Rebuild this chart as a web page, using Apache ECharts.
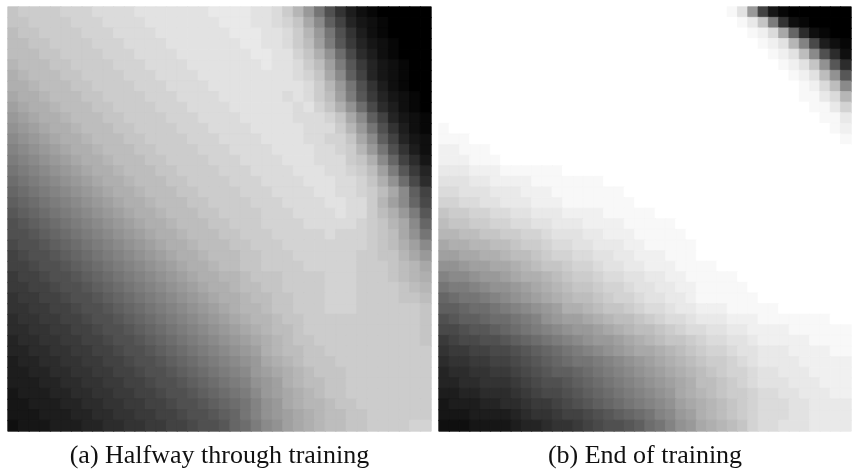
<!DOCTYPE html>
<html>
<head>
<meta charset="utf-8">
<script src="https://cdn.jsdelivr.net/npm/echarts@6/dist/echarts.min.js"></script>
<style>
  html, body { margin: 0; padding: 0; background: #ffffff; }
  #chart { width: 852px; height: 475px; }
</style>
</head>
<body>
<div id="chart"></div>
<script>
// Network output over the 40 x 40 input grid, one string per grid row (top row first).
// Each character is a grey level in base 36: 0 = black ... z (35) = white.
const halfwayRows = [
  "rsssstttuuuuvvvvvvvwwwwvvusplgb742100000",
  "rrsssstttuuuuvvvvvvvwwwvvutrnjd953210000",
  "qrrsssstttuuuuvvvvvvvwwwvvusplgb74210000",
  "qqrrsssstttuuuuvvvvvvvwwvvusqmhc85321000",
  "qqqrrsssstttuuuuvvvvvvvwwvvtrokfa6421000",
  "pqqqrrsssstttuuuuvvvvvvvwvvusqmhc8532100",
  "opqqqrrsssstttuuuuvvvvvvvvvutrnjd9532100",
  "oopqqqrrsssstttuuuuvvvvvvvvvusplgb742100",
  "noopqqqrrsssstttuuuuvvvvvvuvusqmhc853210",
  "mnoopqqqrrsssstttuuuuvvvvvvuvtrokfa64210",
  "lmnoopqqqrrsssstttuuuuvvvvvuuutrnjd95321",
  "klmnoopqqqrrsssstttuuuuvvvvvuuusplgb7421",
  "jklmnoopqqqrrsssstttuuuuvvvvuuttrnjd9532",
  "ijklmnoopqqqrrsssstttuuuuvvvvuutsplgb742",
  "hijklmnoopqqqrrsssstttuuuuvvvuuusroje963",
  "ghijklmnoopqqqrrsssstttuuuuvvvuutsqmhc85",
  "fghijklmnoopqqqrrsssstttuuuuvvvuutrokfa6",
  "efghijklmnoopqqqrrsssstttuuuuvvuutsqnjd9",
  "defghijklmnoopqqqrrsssstttuuuuvvuuspmjea",
  "cdefghijklmnoopqqqrrsssstttuuuuvuusqolhc",
  "bcdefghijklmnoopqqqrrsssttttuuuuutsrpnje",
  "bbcdefghijklmnoopqqqrrssstttttutttsrqnkg",
  "abbcdefghijklmnoopqqqrrsssttttttttsrqomj",
  "9abbcdefghijklmnoopqqqrrsssttttttssrrpnl",
  "99abbcdefghijklmnoopqqrrsssstttttsssrqpn",
  "899abbcdefghijklmnooppqrrrsssstttsssrqpo",
  "8899abbcdefghijklmnoopqqrrsssstttssssrqp",
  "78899abbcdefghijklmnoopqqrrssstttssssrrq",
  "778899abbcdefghijklmnoppqrrssstttssssssr",
  "6778899abbcdefghijklmnoppqrrsssssssssssr",
  "66778899abbcdefghijklmnopqqrsssssssssssr",
  "566778899abbcdefghijklmnopqrrssssssssssr",
  "5566778899abbcdefghijklmopqqrrssssssssss",
  "45566778899abbcdefghijklnopqrrrsssssssss",
  "445566778899abbcdefghijlmnopqrrrssssssss",
  "4445566778899abbcdefghiklmopqqrrssssssss",
  "34445566778899abbcdefghjlmnopqrrssssssss",
  "334445566778899abbcdefgiklnoppqrrsssssss",
  "3334445566778899abbcdegiklmnopqqrrssssss",
  "23334445566778899abbcefhjkmnopqqrrsssstt"
];

const finalRows = [
  "zzzzzzzzzzzzzzzzzzzzzzzzzzzzyvl931000000",
  "zzzzzzzzzzzzzzzzzzzzzzzzzzzzzywrh7210000",
  "zzzzzzzzzzzzzzzzzzzzzzzzzzzzzzyxune62100",
  "zzzzzzzzzzzzzzzzzzzzzzzzzzzzzzzyxvpia421",
  "zzzzzzzzzzzzzzzzzzzzzzzzzzzzzzzzyxvqjb62",
  "zzzzzzzzzzzzzzzzzzzzzzzzzzzzzzzzzyxvrkc6",
  "zzzzzzzzzzzzzzzzzzzzzzzzzzzzzzzzzzyxvqkc",
  "zzzzzzzzzzzzzzzzzzzzzzzzzzzzzzzzzzzyxuqj",
  "zzzzzzzzzzzzzzzzzzzzzzzzzzzzzzzzzzzyywup",
  "zzzzzzzzzzzzzzzzzzzzzzzzzzzzzzzzzzzzyywt",
  "zzzzzzzzzzzzzzzzzzzzzzzzzzzzzzzzzzzzzyyw",
  "yzzzzzzzzzzzzzzzzzzzzzzzzzzzzzzzzzzzzzyx",
  "yyyzzzzzzzzzzzzzzzzzzzzzzzzzzzzzzzzzzzzy",
  "xxyyyzzzzzzzzzzzzzzzzzzzzzzzzzzzzzzzzzzz",
  "xxxyyyzzzzzzzzzzzzzzzzzzzzzzzzzzzzzzzzzz",
  "wwwxxxyyyyyyzzzzzzzzzzzzzzzzzzzzzzzzzzzz",
  "vvvwwxxxxyyyyyyyzzzzzzzzzzzzzzzzzzzzzzzz",
  "uuvvvwwwxxxyyyyyyyzzzzzzzzzzzzzzzzzzzzzz",
  "ttuuvvwwwxxxyyyyyyyzzzzzzzzzzzzzzzzzzzzz",
  "rssttuuvvwwwxxxxyyyyyzzzzzzzzzzzzzzzzzzz",
  "qrrssttuuvvwwwxxxxyyyyyzzzzzzzzzzzzzzzzz",
  "ppqqrrssttuvvvwwxxxyyyyyzzzzzzzzzzzzzzzz",
  "nooppqqrsstuuvvwwwxxyyyyyzzzzzzzzzzzzzzz",
  "mmnnoopqqrsttuuvvwwxxxyyyzzzzzzzzzzzzzzz",
  "kklmmnnopqrrsttuvvwwxxxyyyyzzzzzzzzzzzzz",
  "ijjkllmnoopqrsstuuvvwwxxyyyyyzzzzzzzzzzz",
  "ghhijkklmnopqrrsttuvvwwxxyyyyyzzzzzzzzzz",
  "efgghijklmnopqqrsttuvvwwxyyyyyyzzzzzzzzz",
  "ddeffghijklmoopqrrstuuvwwxxxyyyyyzzzzzzz",
  "bcddeffghiklmmnopqqrstuuvwwwxxxyyyyyyyzz",
  "aabccdefghijkllmnopqqrstuuvvwwxxxxyyyyyy",
  "89aabbcdefghijkllmnopqrrstuuvvwxxxxxyyyy",
  "78899aabcdefghijklmnnopqrsttuvvwwwxxxxyy",
  "6778899abcdefgghijklmnopqrsstuvwwwwxxxxx",
  "56677889abcddefghijklmnopqrsttuvvwwwxxxx",
  "556677789abbcdefghijklmnoqqrstuvvvwwwxxx",
  "4455666789aabcdefghijklnopqrsstuuvvwwwxx",
  "344455667889abcdefghijkmnopqrstuuuvvwwww",
  "33344445677899abcdefgijlmopqrstuuuvvwwww",
  "222333345567789abbcdfgiklnopqrtuuvvvwwww"
];

const captions = ["(a) Halfway through training", "(b) End of training"];
const LEVEL_MAX = 35;

// Grey shade of a level, identical to the visualMap ramp (black -> white).
function shade(level) {
  const g = Math.round(level / LEVEL_MAX * 255);
  return 'rgb(' + g + ',' + g + ',' + g + ')';
}

// Turn the row strings into heatmap items [column, row, level].
// The border uses the cell's own shade so neighbouring cells meet without seams.
function toCells(rows) {
  const cells = [];
  rows.forEach(function (row, r) {
    for (let c = 0; c < row.length; c++) {
      const level = parseInt(row.charAt(c), 36);
      cells.push({
        value: [c, r, level],
        itemStyle: { borderColor: shade(level), borderWidth: 0.8 }
      });
    }
  });
  return cells;
}

function indexList(n) {
  const list = [];
  for (let k = 0; k < n; k++) list.push(String(k));
  return list;
}

const colCats = indexList(halfwayRows[0].length);
const rowCats = indexList(halfwayRows.length);

const hiddenAxis = {
  show: false,
  axisLine: { show: false },
  axisTick: { show: false },
  axisLabel: { show: false },
  splitLine: { show: false }
};

const panels = [
  { left: 8, width: 423 },
  { left: 439, width: 412 }
];

const chart = echarts.init(document.getElementById('chart'), null, { renderer: 'canvas' });

chart.setOption({
  animation: false,
  backgroundColor: '#ffffff',
  grid: panels.map(function (p) {
    return { left: p.left, top: 7, width: p.width, height: 424, containLabel: false };
  }),
  xAxis: panels.map(function (p, k) {
    return Object.assign({ type: 'category', gridIndex: k, data: colCats, boundaryGap: true }, hiddenAxis);
  }),
  yAxis: panels.map(function (p, k) {
    return Object.assign({ type: 'category', gridIndex: k, data: rowCats, inverse: true, boundaryGap: true }, hiddenAxis);
  }),
  visualMap: {
    type: 'continuous',
    show: false,
    min: 0,
    max: LEVEL_MAX,
    dimension: 2,
    seriesIndex: [0, 1],
    inRange: { color: ['#000000', '#ffffff'] }
  },
  series: [halfwayRows, finalRows].map(function (rows, k) {
    return {
      type: 'heatmap',
      xAxisIndex: k,
      yAxisIndex: k,
      data: toCells(rows),
      progressive: 0,
      emphasis: { disabled: true }
    };
  }),
  graphic: captions.map(function (text, k) {
    return {
      type: 'text',
      x: panels[k].left + panels[k].width / 2,
      y: 456,
      silent: true,
      style: {
        text: text,
        fill: '#111111',
        font: '26px "Liberation Serif", "DejaVu Serif", serif',
        align: 'center',
        verticalAlign: 'middle'
      }
    };
  })
});
</script>
</body>
</html>
